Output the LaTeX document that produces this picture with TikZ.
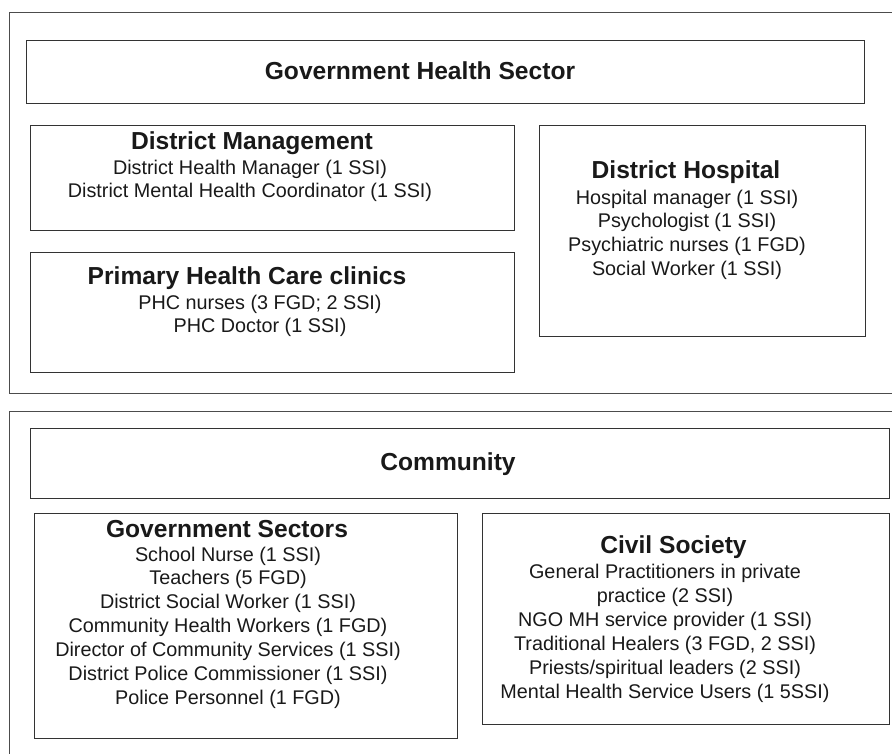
\documentclass[tikz,border=0pt]{standalone}
\usepackage{fontspec}
\setmainfont{Liberation Sans}
\usepackage{tikz}

\begin{document}
\begin{tikzpicture}[x=1pt,y=-1pt,
	box/.style={draw=black!80,line width=1.1pt,rectangle,inner sep=0pt,anchor=north west},
	head/.style={font=\fontsize{24.6}{29}\selectfont\bfseries,text=black!90,inner sep=0pt,anchor=north},
	body/.style={font=\fontsize{19.8}{23.9}\selectfont,text=black!90,align=center,inner sep=0pt,anchor=north}]
\clip (0,0) rectangle (892,753);
% health sector
\node [box,draw=black!70,minimum width=896pt,minimum height=381.3pt] (hs) at (9,11.7) {};
\node [box,minimum width=838.4pt,minimum height=63pt] (ghs) at (25.6,40) {};
\node [head] (ghst) at (420,61) {Government Health Sector};
\node [box,minimum width=484.4pt,minimum height=105pt] (dm) at (29.6,125) {};
\node [head] (dmt) at (252,131) {District Management};
\node [body] (dml) at (250,159.5) {District Health Manager (1 SSI)\\District Mental Health Coordinator (1 SSI)};
\node [box,minimum width=326pt,minimum height=211pt] (dh) at (538.5,125) {};
\node [head] (dht) at (686,160) {District Hospital};
\node [body] (dhl) at (687,189.5) {Hospital manager (1 SSI)\\Psychologist (1 SSI)\\Psychiatric nurses (1 FGD)\\Social Worker (1 SSI)};
\node [box,minimum width=484.4pt,minimum height=120pt] (phc) at (29.6,252) {};
\node [head] (phct) at (247,266) {Primary Health Care clinics};
\node [body] (phcl) at (260,294.5) {PHC nurses (3 FGD; 2 SSI)\\PHC Doctor (1 SSI)};
% community
\node [box,draw=black!70,minimum width=896pt,minimum height=360pt] (cm) at (9,410.7) {};
\node [box,minimum width=859.1pt,minimum height=70pt] (com) at (29.6,428) {};
\node [head] (comt) at (448,452.7) {Community};
\node [box,minimum width=423pt,minimum height=225pt] (gs) at (34,513) {};
\node [head] (gst) at (227,520) {Government Sectors};
\node [body] (gsl) at (228,546.5) {School Nurse (1 SSI)\\Teachers (5 FGD)\\District Social Worker (1 SSI)\\Community Health Workers (1 FGD)\\Director of Community Services (1 SSI)\\District Police Commissioner (1 SSI)\\Police Personnel (1 FGD)};
\node [box,minimum width=406.7pt,minimum height=211pt] (cs) at (482,513) {};
\node [head] (cst) at (673.5,535) {Civil Society};
\node [body] (csl) at (665,564) {General Practitioners in private\\practice (2 SSI)\\NGO MH service provider (1 SSI)\\Traditional Healers (3 FGD, 2 SSI)\\Priests/spiritual leaders (2 SSI)\\Mental Health Service Users (1 5SSI)};
\end{tikzpicture}
\end{document}
